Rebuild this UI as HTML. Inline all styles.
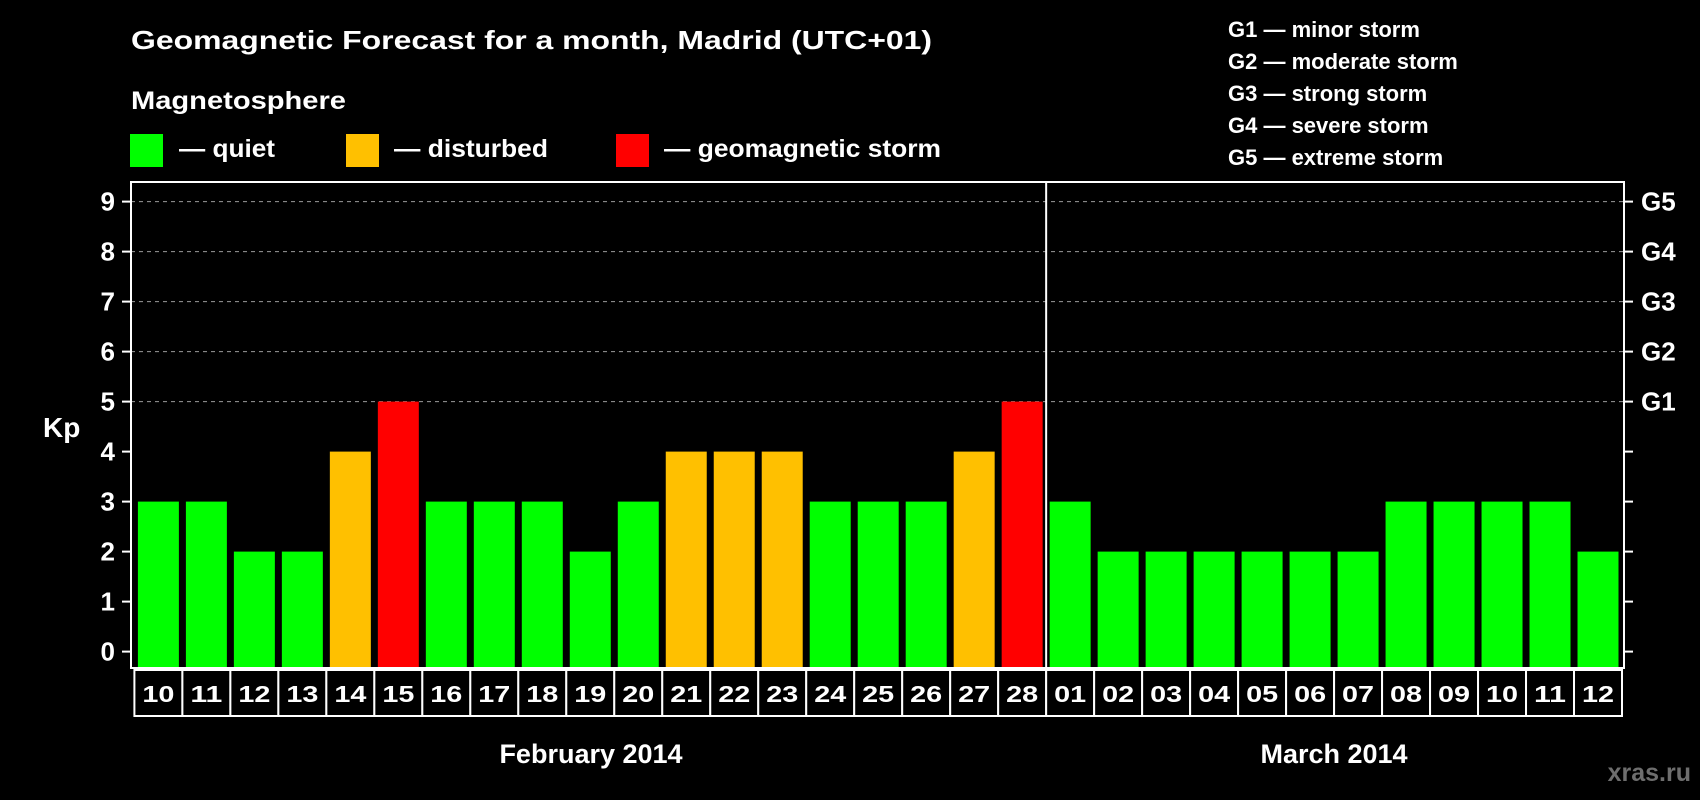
<!DOCTYPE html>
<html><head><meta charset="utf-8"><style>
html,body{margin:0;padding:0;background:#000;}
svg{display:block;font-family:"Liberation Sans",Arial,sans-serif;font-weight:bold;}
</style></head><body>
<svg id="chart" width="1700" height="800" viewBox="0 0 1700 800">
<rect x="0" y="0" width="1700" height="800" fill="#000"/>
<text x="131" y="49" fill="#fff" font-size="26" textLength="801" lengthAdjust="spacingAndGlyphs">Geomagnetic Forecast for a month, Madrid (UTC+01)</text>
<text x="131" y="109" fill="#fff" font-size="25" textLength="215" lengthAdjust="spacingAndGlyphs">Magnetosphere</text>
<g>
<rect x="130" y="134" width="33" height="33" fill="#00ff00"/>
<text x="179" y="157" fill="#fff" font-size="25" textLength="96" lengthAdjust="spacingAndGlyphs">— quiet</text>
</g>
<g>
<rect x="346" y="134" width="33" height="33" fill="#ffc000"/>
<text x="394" y="157" fill="#fff" font-size="25" textLength="154" lengthAdjust="spacingAndGlyphs">— disturbed</text>
</g>
<g>
<rect x="616" y="134" width="33" height="33" fill="#ff0000"/>
<text x="664" y="157" fill="#fff" font-size="25" textLength="277" lengthAdjust="spacingAndGlyphs">— geomagnetic storm</text>
</g>
<g fill="#fff" font-size="22">
<text x="1228" y="37">G1 — minor storm</text>
<text x="1228" y="69">G2 — moderate storm</text>
<text x="1228" y="101">G3 — strong storm</text>
<text x="1228" y="133">G4 — severe storm</text>
<text x="1228" y="165">G5 — extreme storm</text>
</g>
<g id="plot"></g>
<text x="43" y="437" fill="#fff" font-size="28">Kp</text>
<text x="591" y="763" fill="#fff" font-size="27" text-anchor="middle">February 2014</text>
<text x="1334" y="763" fill="#fff" font-size="27" text-anchor="middle">March 2014</text>
<text x="1691" y="781" fill="#6e6e6e" font-size="25" text-anchor="end">xras.ru</text>
</svg>
<script>
const days = ["10","11","12","13","14","15","16","17","18","19","20","21","22","23","24","25","26","27","28","01","02","03","04","05","06","07","08","09","10","11","12"];
const kpValues = [3,3,2,2,4,5,3,3,3,2,3,4,4,4,3,3,3,4,5,3,2,2,2,2,2,2,3,3,3,3,2];
const yTicks = [0,1,2,3,4,5,6,7,8,9];
const gLabels = ["G1","G2","G3","G4","G5"];
const gLevels = [5,6,7,8,9];
const marchStartIndex = 19;

const NS = "http://www.w3.org/2000/svg";
const plot = document.getElementById("plot");
const FL = 131, FR = 1624, FT = 182, FB = 668;
const colX0 = 134.4, colW = (1622 - 134.4) / days.length;
function yScale(v){ return 651.6 - v * 50; }
function xScale(i){ return colX0 + i * colW; }
function mk(tag, attrs){ const e = document.createElementNS(NS, tag); for (const k in attrs) e.setAttribute(k, attrs[k]); plot.appendChild(e); return e; }

// grid lines for G levels
gLevels.forEach((g, i) => {
  const ln = mk("line", {x1: FL, x2: FR, y1: yScale(g), y2: yScale(g), stroke: "#9a9a9a", "stroke-width": 1, "stroke-dasharray": "4,4"});
  
  
});

// bars
kpValues.forEach((v, i) => {
  const col = v >= 5 ? "#ff0000" : (v >= 4 ? "#ffc000" : "#00ff00");
  const y = yScale(v);
  const r = mk("rect", {x: xScale(i) + 3.5, y: y, width: colW - 7, height: FB - y, fill: col});
  
  
});

// frame
const frame = mk("rect", {x: FL, y: FT, width: FR - FL, height: FB - FT, fill: "none", stroke: "#fff", "stroke-width": 2});


const sep = mk("line", {x1: xScale(marchStartIndex), x2: xScale(marchStartIndex), y1: FT, y2: FB, stroke: "#fff", "stroke-width": 2});



// y ticks
yTicks.forEach(t => {
  const y = yScale(t);
  const tl = mk("line", {x1: FL - 9, x2: FL, y1: y, y2: y, stroke: "#fff", "stroke-width": 2});
  
  
  const tr = mk("line", {x1: FR, x2: FR + 9, y1: y, y2: y, stroke: "#fff", "stroke-width": 2});
  
  
  const lb = mk("text", {x: 115, y: y + 9, fill: "#fff", "font-size": 26, "text-anchor": "end"});
  lb.textContent = t;
  
  
});
gLevels.forEach((g, i) => {
  const lb = mk("text", {x: 1641, y: yScale(g) + 9, fill: "#fff", "font-size": 26});
  lb.textContent = gLabels[i];
  
  
});

// day label boxes
days.forEach((d, i) => {
  const b = mk("rect", {x: xScale(i), y: 670, width: colW, height: 46, fill: "#000", stroke: "#fff", "stroke-width": 2});
  
  
  const t = mk("text", {x: xScale(i) + colW / 2, y: 702, fill: "#fff", "font-size": 23, "text-anchor": "middle", textLength: 32, lengthAdjust: "spacingAndGlyphs"});
  t.textContent = d;
  
  
});
</script>
</body></html>
